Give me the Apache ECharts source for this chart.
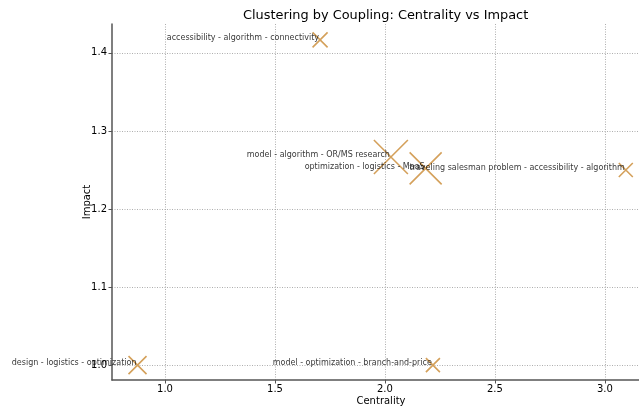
<!DOCTYPE html>
<html>
<head>
<meta charset="utf-8">
<script src="https://cdn.jsdelivr.net/npm/echarts@6/dist/echarts.min.js"></script>
<style>html,body{margin:0;padding:0;background:#fff}#c{width:639px;height:407px}</style>
</head>
<body>
<div id="c"></div>
<script>
const names = [
  "accessibility - algorithm - connectivity",
  "model - algorithm - OR/MS research",
  "optimization - logistics - MaaS",
  "traveling salesman problem - accessibility - algorithm",
  "design - logistics - optimization",
  "model - optimization - branch-and-price"
];
const centrality = [1.705, 2.027, 2.185, 3.095, 0.875, 2.218];
const impact = [1.4167, 1.2667, 1.2520, 1.2500, 1.0, 1.0];
const markerSize = [15, 34, 32, 14, 18, 14];
const xTicks = [1.0, 1.5, 2.0, 2.5, 3.0];
const yTicks = [1.0, 1.1, 1.2, 1.3, 1.4];

const FONT = "DejaVu Sans";
const pts = names.map((n, i) => ({ name: n, value: [centrality[i], impact[i]], symbolSize: markerSize[i] }));
const labelPts = names.map((n, i) => ({ name: n, value: [centrality[i], impact[i]] }));

const chart = echarts.init(document.getElementById('c'), null, { renderer: 'canvas' });
chart.setOption({
  animation: false,
  backgroundColor: '#fff',
  title: {
    text: 'Clustering by Coupling: Centrality vs Impact',
    left: 238, top: 4,
    textStyle: { fontFamily: FONT, fontSize: 12.9, fontWeight: 'normal', color: '#000' }
  },
  grid: { left: 112, right: -11, top: 24, bottom: 27, containLabel: false, outerBoundsMode: 'none' },
  xAxis: {
    type: 'value', min: 0.759, max: 3.205,
    name: 'Centrality', nameLocation: 'middle', nameGap: 16, nameMoveOverlap: false,
    nameTextStyle: { fontFamily: FONT, fontSize: 10, color: '#000' },
    axisLine: { show: true, lineStyle: { color: '#555', width: 1.5 } },
    axisTick: { show: true, length: 3.5, customValues: xTicks, lineStyle: { color: '#555' } },
    axisLabel: { customValues: xTicks, fontFamily: FONT, fontSize: 10, color: '#000', margin: 4,
      formatter: v => v.toFixed(1) },
    splitLine: { show: true, lineStyle: { color: '#999', type: [1, 1.5], width: 0.8 } }
  },
  yAxis: {
    type: 'value', min: 0.981, max: 1.437,
    name: 'Impact', nameLocation: 'middle', nameGap: 20, nameMoveOverlap: false,
    nameTextStyle: { fontFamily: FONT, fontSize: 10, color: '#000' },
    axisLine: { show: true, lineStyle: { color: '#555', width: 1.5 } },
    axisTick: { show: true, length: 3.5, customValues: yTicks, lineStyle: { color: '#555' } },
    axisLabel: { customValues: yTicks, fontFamily: FONT, fontSize: 10, color: '#000', margin: 5,
      formatter: v => v.toFixed(1) },
    splitLine: { show: true, lineStyle: { color: '#999', type: [1, 1.5], width: 0.8 } }
  },
  series: [
    {
      type: 'scatter',
      symbol: 'path://M0,0 L10,10 M10,0 L0,10',
      data: pts,
      itemStyle: { color: 'none', borderColor: '#D4A05A', borderWidth: 1.6, opacity: 1 },
      emphasis: { disabled: true },
      z: 3
    },
    {
      type: 'scatter',
      symbolSize: 0.01,
      data: labelPts,
      silent: true,
      z: 4,
      label: {
        show: true, position: 'left', distance: 1, offset: [0, -2],
        formatter: p => p.name,
        fontFamily: FONT, fontSize: 8, color: '#000'
      }
    }
  ]
});
</script>
</body>
</html>
